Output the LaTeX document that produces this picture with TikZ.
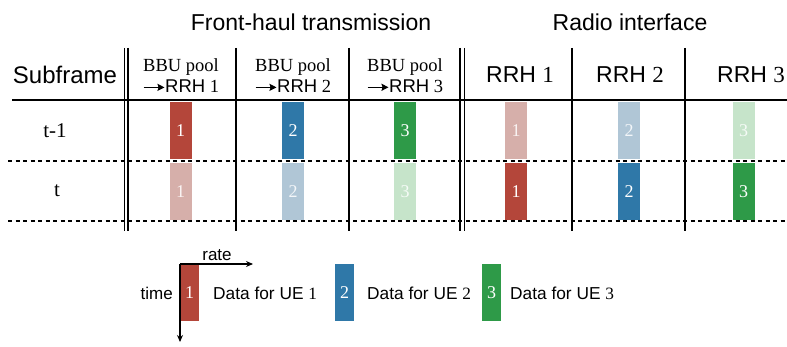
\documentclass[tikz,border=0pt]{standalone}
\usepackage{fontspec}
\setmainfont{Liberation Serif}
\setsansfont{Liberation Sans}
\usetikzlibrary{arrows.meta}
\definecolor{cR}{HTML}{B4463A}
\definecolor{cB}{HTML}{2F78A8}
\definecolor{cG}{HTML}{2E9A48}
\definecolor{fR}{HTML}{D6AFAA}
\definecolor{fB}{HTML}{B0C6D6}
\definecolor{fG}{HTML}{C6E4CA}
\newcommand{\rarr}{\tikz[baseline=-0.65ex]\draw[line width=1.4pt,-{Stealth[length=7pt,width=7pt,inset=1pt]}] (0,0)--(21pt,0);}
\begin{document}
\begin{tikzpicture}[x=1pt,y=-1pt,
  title/.style={font=\sffamily\fontsize{23}{26}\selectfont},
  hdr/.style={font=\sffamily\fontsize{23}{26}\selectfont},
  sub/.style={align=center,font=\fontsize{18.5}{20}\selectfont,inner sep=0},
  rowlab/.style={font=\fontsize{21}{24}\selectfont},
  blk/.style={minimum width=22pt,minimum height=57pt,inner sep=0,text=white,font=\fontsize{18}{20}\selectfont},
  lblk/.style={blk,minimum width=19pt},
  leg/.style={font=\sffamily\fontsize{17.3}{20}\selectfont,anchor=west,inner sep=0},
  solid line/.style={line width=1.3pt},
  dash line/.style={line width=1.6pt,dash pattern=on 4pt off 3.5pt},
  ax/.style={line width=1.2pt,-{Stealth[length=7pt,width=6pt]}}
]
\useasboundingbox (0,0) rectangle (787,347);
% titles
\node[title] (t1) at (311,22) {Front-haul transmission};
\node[title] (t2) at (630,22) {Radio interface};
% headers
\node[hdr,font=\sffamily\fontsize{24}{28}\selectfont] (sf) at (65,75) {Subframe};
\node[sub] (h1) at (181,76) {BBU pool\\[1pt]\rarr{\sffamily RRH} 1};
\node[sub] (h2) at (293,76) {BBU pool\\[1pt]\rarr{\sffamily RRH} 2};
\node[sub] (h3) at (405,76) {BBU pool\\[1pt]\rarr{\sffamily RRH} 3};
\node[hdr] (r1) at (520,75) {RRH {\rmfamily 1}};
\node[hdr] (r2) at (630,75) {RRH {\rmfamily 2}};
\node[hdr] (r3) at (751,75) {RRH {\rmfamily 3}};
% grid lines
\coordinate (hl0) at (12,100); \coordinate (hr0) at (787,100);
\coordinate (hl1) at (8,161); \coordinate (hr1) at (787,161);
\coordinate (hl2) at (8,221); \coordinate (hr2) at (787,221);
\draw[solid line] (hl0) -- (hr0);
\draw[dash line] (hl1) -- (hr1);
\draw[dash line] (hl2) -- (hr2);
\foreach \x in {124.5,128,236,349,460,464.5,572,685}{
  \draw[solid line] (\x,48) -- (\x,231);
}
% row labels
\node[rowlab] (ra) at (55,131) {t-1};
\node[rowlab] (rb) at (57,191) {t};
% blocks row t-1
\node[blk,fill=cR] (a1) at (180.5,130.5) {1};
\node[blk,fill=cB] (a2) at (293,130.5) {2};
\node[blk,fill=cG] (a3) at (405,130.5) {3};
\node[blk,fill=fR,text=white!85!fR] (a4) at (516,130.5) {1};
\node[blk,fill=fB,text=white!85!fB] (a5) at (629,130.5) {2};
\node[blk,fill=fG,text=white!85!fG] (a6) at (743.5,130.5) {3};
% blocks row t
\node[blk,fill=fR,text=white!85!fR] (b1) at (180.5,191.5) {1};
\node[blk,fill=fB,text=white!85!fB] (b2) at (293,191.5) {2};
\node[blk,fill=fG,text=white!85!fG] (b3) at (405,191.5) {3};
\node[blk,fill=cR] (b4) at (516,191.5) {1};
\node[blk,fill=cB] (b5) at (629,191.5) {2};
\node[blk,fill=cG] (b6) at (743.5,191.5) {3};
% legend
\node[lblk,fill=cR] (l1) at (189.5,292.5) {1};
\node[lblk,fill=cB] (l2) at (344.5,292.5) {2};
\node[lblk,fill=cG] (l3) at (491.5,292.5) {3};
\coordinate (org) at (180,264);
\coordinate (rateEnd) at (253,264);
\coordinate (timeEnd) at (180,342);
\draw[ax] (org) -- (rateEnd);
\draw[ax] (org) -- (timeEnd);
\node[leg,anchor=south,font=\sffamily\fontsize{17}{20}\selectfont] (rate) at (217,261) {rate};
\node[leg,anchor=east,font=\sffamily\fontsize{17}{20}\selectfont] (time) at (173,293) {time};
\node[leg] (d1) at (213,293) {Data for UE {\rmfamily 1}};
\node[leg] (d2) at (367,293) {Data for UE {\rmfamily 2}};
\node[leg] (d3) at (510,293) {Data for UE {\rmfamily 3}};
\end{tikzpicture}
\end{document}
